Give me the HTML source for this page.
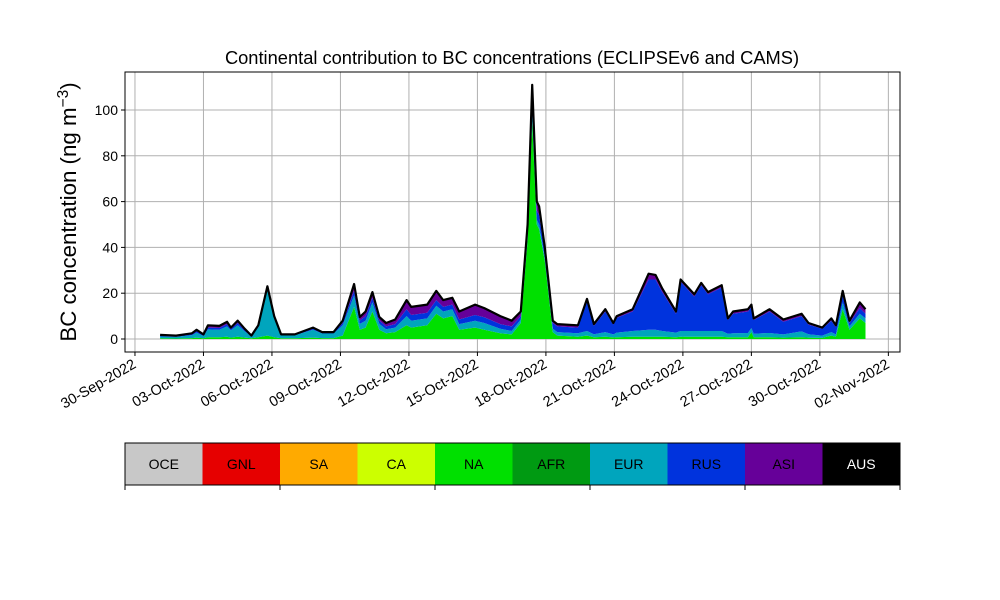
<!DOCTYPE html>
<html><head><meta charset="utf-8"><style>
body{margin:0;background:#fff;}
svg{display:block;font-family:"Liberation Sans","DejaVu Sans",sans-serif;}
</style></head><body>
<svg id="chart" width="1000" height="600" viewBox="0 0 1000 600">
<text x="512" y="64" text-anchor="middle" font-size="18.3">Continental contribution to BC concentrations (ECLIPSEv6 and CAMS)</text>
<g id="grid"></g>
<g id="areas"></g>
<g id="axes"></g>
<text transform="translate(76,212) rotate(-90)" text-anchor="middle" font-size="22.3">BC concentration (ng m<tspan baseline-shift="super" font-size="15.5">−3</tspan>)</text>
<g id="cbar"></g>
</svg>
<script>
const times=[0.1,0.8,1.5,1.7,2.0,2.2,2.7,3.03,3.2,3.5,3.8,4.1,4.4,4.8,5.1,5.4,6.0,6.8,7.2,7.7,8.1,8.6,8.85,9.1,9.4,9.7,10.0,10.4,10.9,11.1,11.8,12.2,12.5,12.9,13.2,13.9,14.3,15.0,15.5,15.9,16.2,16.4,16.6,16.7,16.95,17.3,17.5,18.4,18.8,19.1,19.6,19.95,20.1,20.8,21.5,21.8,22.1,22.7,22.9,23.5,23.8,24.1,24.7,24.97,25.2,25.85,26.0,26.1,26.7,26.8,27.4,28.2,28.5,29.1,29.5,29.7,30.0,30.3,30.75,31.0];
const naVals=[0.3,0.2,0.4,0.6,0.3,0.8,0.8,1.0,0.6,1.0,0.6,0.3,0.8,1.5,0.8,0.3,0.3,0.6,0.4,0.4,1.5,14,4,5,12,4,2.5,3,6,5,6,11,9,10,4,5,4,2.5,2,7,43,95,50,48,34,3,1.5,1,1.5,0.8,1,0.7,0.8,1,1,1,1,0.8,1,1,1,1,1,0.8,0.8,0.8,3,0.8,0.8,0.8,0.6,0.8,0.6,0.5,1.5,1,13,4,9,7];
const eurVals=[0.8,0.7,1.3,2.2,1.0,3.4,3.2,4.5,3.2,5.0,2.8,0.8,4.2,20,8,1.3,1.3,3.4,2.0,2.0,4.5,5,2.6,3,4,2.6,1.8,2,4,3,3,3.5,3,3,2.5,3,3,2,1.5,1.5,2,3,2,2,1.5,1.5,1.5,1.5,2,1.3,2,1.3,2,2.5,3,3,2.5,2,2.5,2.5,2.5,2.5,2.5,1.5,1.7,1.8,1.8,1.5,1.8,1.8,1.4,2.5,1.5,1,1.5,1,3,1.5,2,2];
const rusVals=[0.3,0.3,0.4,0.6,0.4,0.8,0.8,0.9,0.6,1.0,0.5,0.2,0.5,0.8,0.5,0.2,0.2,0.5,0.3,0.3,1,2,1.5,2,2,1.5,1.2,1.5,3,2.5,2.5,2.5,2,2,2,2.5,2.5,2,2,1.5,3,7,4,4,2.5,2.5,2.5,2.5,13,3.6,9,4.3,6.4,8.5,22,22,17,8.2,21.5,15,20,16,19,6,8.5,9.4,9.2,6,8.9,9.4,5.5,6.7,4.2,3,5,3.2,3,1.5,2.5,2];
const asiVals=[0.4,0.3,0.4,0.6,0.3,1.0,0.9,1.1,0.6,1.0,0.6,0.2,0.5,0.7,0.7,0.2,0.2,0.5,0.3,0.3,1,3,1.5,2,2.5,1.5,1.5,2,4,3.5,3.5,4,3,3,3.5,4.5,4,3.5,2.5,2,2,6,4,4,2,1,1,1,1,0.8,1,0.7,0.8,1,2.5,2,1.5,1,1,1,1,1,1,0.7,1,1,1,0.7,1,1,1,1,0.7,0.5,1,0.8,2,1,2.5,2];
const yTicks=[0,20,40,60,80,100];
const xTickLabels=["30-Sep-2022","03-Oct-2022","06-Oct-2022","09-Oct-2022","12-Oct-2022","15-Oct-2022","18-Oct-2022","21-Oct-2022","24-Oct-2022","27-Oct-2022","30-Oct-2022","02-Nov-2022"];
const xTickDays=[-1,2,5,8,11,14,17,20,23,26,29,32];
const cbLabels=["OCE","GNL","SA","CA","NA","AFR","EUR","RUS","ASI","AUS"];
const cbColors=["#c8c8c8","#e60000","#ffaa00","#ccff00","#00e000","#009a12","#00a5bd","#0033dd","#660099","#000000"];

const NS="http://www.w3.org/2000/svg";
const L=125,R=900,T=72,B=352;
const xs=t=>157.8+22.83*t;
const ys=v=>339-2.29*v;
function mk(tag,attrs,parent){const e=document.createElementNS(NS,tag);for(const k in attrs)e.setAttribute(k,attrs[k]);parent.appendChild(e);return e;}
const grid=document.getElementById('grid'),axes=document.getElementById('axes'),areas=document.getElementById('areas'),cbar=document.getElementById('cbar');
yTicks.forEach(v=>{
  const g=mk('line',{x1:L,x2:R,y1:ys(v),y2:ys(v),stroke:'#b0b0b0','stroke-width':1},grid);
  
  
  mk('line',{x1:L-4,x2:L,y1:ys(v),y2:ys(v),stroke:'#000'},axes);
  const t=mk('text',{x:L-7,y:ys(v)+5,'text-anchor':'end','font-size':14},axes);
  t.textContent=v;
  
  
});
xTickDays.forEach((d,i)=>{
  const x=xs(d);
  const g=mk('line',{x1:x,x2:x,y1:T,y2:B,stroke:'#b0b0b0','stroke-width':1},grid);
  
  
  mk('line',{x1:x,x2:x,y1:B,y2:B+4,stroke:'#000'},axes);
  const t=mk('text',{transform:`translate(${x+2},${B+15}) rotate(-30)`,'text-anchor':'end','font-size':14.5},axes);
  t.textContent=xTickLabels[i];
  
  
});
const series=[[naVals,'#00e000','area-na'],[eurVals,'#00a5bd','area-eur'],[rusVals,'#0033dd','area-rus'],[asiVals,'#660099','area-asi']];
let base=times.map(()=>0);
series.forEach(([vals,col,name])=>{
  const top=base.map((b,i)=>b+vals[i]);
  let d='M'+times.map((t,i)=>xs(t).toFixed(1)+','+ys(top[i]).toFixed(1)).join('L');
  for(let i=times.length-1;i>=0;i--)d+='L'+xs(times[i]).toFixed(1)+','+ys(base[i]).toFixed(1);
  const p=mk('path',{d:d+'Z',fill:col,stroke:'none'},areas);
  
  
  base=top;
});
const outline=mk('path',{d:'M'+times.map((t,i)=>xs(t).toFixed(1)+','+ys(base[i]).toFixed(1)).join('L'),fill:'none',stroke:'#000','stroke-width':2.2,'stroke-linejoin':'round'},areas);


const fr=mk('rect',{x:L,y:T,width:R-L,height:B-T,fill:'none',stroke:'#000','stroke-width':1},axes);


const cw=(R-L)/cbLabels.length;
cbLabels.forEach((lab,i)=>{
  const r=mk('rect',{x:L+i*cw,y:443,width:cw,height:42,fill:cbColors[i]},cbar);
  
  
  const t=mk('text',{x:L+i*cw+cw/2,y:469,'text-anchor':'middle','font-size':14,fill:lab==='AUS'?'#fff':'#000'},cbar);
  t.textContent=lab;
  
  
});
mk('rect',{x:L,y:443,width:R-L,height:42,fill:'none',stroke:'#000'},cbar);
[0,2,4,6,8,10].forEach(k=>mk('line',{x1:L+k*cw,x2:L+k*cw,y1:485,y2:490,stroke:'#000'},cbar));
</script>
</body></html>
